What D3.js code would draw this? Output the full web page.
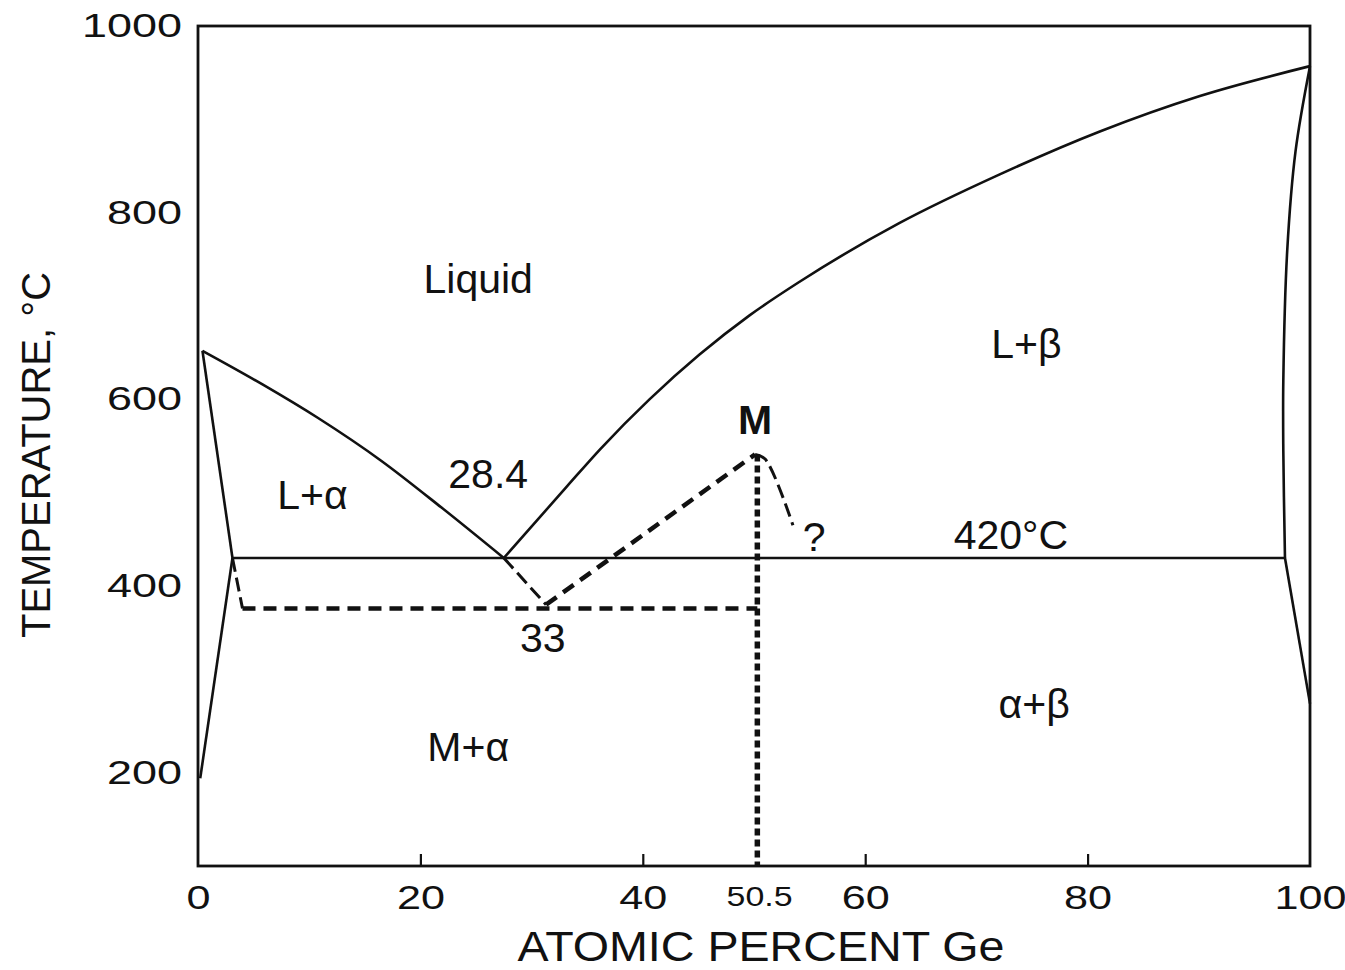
<html>
<head>
<script src="https://d3js.org/d3.v7.min.js"></script>
<style>
body { margin: 0; background: #fff; }
svg text { font-family: "Liberation Sans", Arial, Helvetica, sans-serif; fill: #111; }
.phase { fill: none; stroke: #111; stroke-width: 2.6; }
.meta { fill: none; stroke: #111; stroke-width: 4.5; stroke-dasharray: 13,8; }
.thin { fill: none; stroke: #111; stroke-width: 3; stroke-dasharray: 14,6; }
.dots { fill: none; stroke: #111; stroke-width: 5.5; stroke-dasharray: 7,4; }
.frame { fill: none; stroke: #111; stroke-width: 2.8; }
</style>
</head>
<body>
<svg id="chart"></svg>
<script>
// Al-Ge phase diagram (at.% Ge, deg C)
var xTicks = [0, 20, 40, 60, 80, 100];
var yTicks = [200, 400, 600, 800, 1000];
var xMark = 50.5;

var liquidusAl = [[0.4,652],[5.8,616],[10.8,580],[16.5,534],[21.9,484],[27.5,430]];
var liquidusGe = [[27.5,430],[33.2,507],[36.2,547],[40.6,600],[45.1,648],[49.6,690],[54.1,726],[63.1,789],[72.1,841],[81.1,887],[90.1,925],[100,957]];
var solidusAl = [[0.4,652],[3.1,430]];
var solvusAl = [[3.1,430],[0.2,194]];
var eutectic = [[3.1,430],[97.75,430]];
var solidusGe = [[100,957],[98.7,866],[97.95,759],[97.6,620],[97.6,545],[97.75,430]];
var solvusGe = [[97.75,430],[100,274]];

// metastable M phase (dashed)
var metaAlEdge = [[3.1,430],[4.0,376]];
var metaEutectic = [[4.0,376],[50.3,376]];
var metaLiqAl = [[27.5,430],[31.3,380]];
var metaLiqM = [[31.3,380],[50.1,541]];
var metaLiqGe = [[50.1,541],[51.0,536],[53.5,465]];
var phaseM = [[50.3,541],[50.3,100]];

var labels = [
	{ t: "Liquid", x: 25.2, y: 714 },
	{ t: "L+\u03b1", x: 10.3, y: 483 },
	{ t: "28.4", x: 26.1, y: 505 },
	{ t: "M", x: 50.1, y: 563, bold: true },
	{ t: "?", x: 55.4, y: 438 },
	{ t: "420\u00b0C", x: 73.1, y: 440 },
	{ t: "33", x: 31.0, y: 329 },
	{ t: "M+\u03b1", x: 24.3, y: 213 },
	{ t: "L+\u03b2", x: 74.5, y: 644 },
	{ t: "\u03b1+\u03b2", x: 75.2, y: 259 }
];

var W = 1345, H = 970;
var m = { left: 198, right: 35, top: 26, bottom: 104 };

var svg = d3.select("#chart")
	.attr("width", W)
	.attr("height", H);

var x = d3.scaleLinear().domain([0, 100]).range([m.left, W - m.right]);
var y = d3.scaleLinear().domain([100, 1000]).range([H - m.bottom, m.top]);

var line = d3.line()
	.x(function(d) { return x(d[0]); })
	.y(function(d) { return y(d[1]); });
var smooth = d3.line()
	.x(function(d) { return x(d[0]); })
	.y(function(d) { return y(d[1]); })
	.curve(d3.curveMonotoneX);
var curve = d3.line()
	.x(function(d) { return x(d[0]); })
	.y(function(d) { return y(d[1]); })
	.curve(d3.curveCatmullRom.alpha(0.5));

// frame
svg.append("rect")
	.attr("class", "frame")
	.attr("x", x(0)).attr("y", y(1000))
	.attr("width", x(100) - x(0))
	.attr("height", y(100) - y(1000));

// axes
var xAxis = d3.axisBottom(x)
	.tickValues(xTicks)
	.tickSizeInner(-12)
	.tickSizeOuter(0)
	.tickPadding(20)
	.tickFormat(d3.format("d"));
var gx = svg.append("g")
	.attr("transform", "translate(0," + y(100) + ")")
	.call(xAxis);
gx.select(".domain").remove();
gx.selectAll(".tick line")
	.attr("stroke", "#111").attr("stroke-width", 2.2)
	.attr("display", function(d) { return (d === 0 || d === 100) ? "none" : null; });
gx.selectAll(".tick text")
	.attr("font-size", 33)
	.attr("textLength", function(d) { return String(d).length * 24; })
	.attr("lengthAdjust", "spacingAndGlyphs");

var yAxis = d3.axisLeft(y)
	.tickValues(yTicks)
	.tickSize(0)
	.tickPadding(16)
	.tickFormat(d3.format("d"));
var gy = svg.append("g")
	.attr("transform", "translate(" + x(0) + ",0)")
	.call(yAxis);
gy.select(".domain").remove();
gy.selectAll(".tick text")
	.attr("font-size", 33)
	.attr("textLength", function(d) { return String(d).length * 25; })
	.attr("lengthAdjust", "spacingAndGlyphs");

svg.append("text")
	.attr("x", x(xMark))
	.attr("y", y(100) + 40)
	.attr("text-anchor", "middle")
	.attr("font-size", 27)
	.attr("textLength", 66)
	.attr("lengthAdjust", "spacingAndGlyphs")
	.text(String(xMark));

// axis titles
svg.append("text")
	.attr("x", 761)
	.attr("y", H - 9)
	.attr("text-anchor", "middle")
	.attr("font-size", 42)
	.attr("textLength", 487)
	.attr("lengthAdjust", "spacingAndGlyphs")
	.text("ATOMIC PERCENT Ge");

svg.append("text")
	.attr("transform", "translate(50," + 455 + ") rotate(-90)")
	.attr("text-anchor", "middle")
	.attr("font-size", 40)
	.attr("textLength", 366)
	.attr("lengthAdjust", "spacingAndGlyphs")
	.text("TEMPERATURE, \u00b0C");

// phase boundaries
[liquidusAl, liquidusGe].forEach(function(d) {
	svg.append("path").attr("class", "phase").attr("d", smooth(d));
});
svg.append("path").attr("class", "phase").attr("d", curve(solidusGe));
[solidusAl, solvusAl, solvusGe].forEach(function(d) {
	svg.append("path").attr("class", "phase").attr("d", line(d));
});
svg.append("path").attr("class", "phase").attr("stroke-width", 2.2).attr("d", line(eutectic));

// metastable lines
svg.append("path").attr("class", "thin").attr("stroke-dasharray", "6,5").attr("d", line(metaAlEdge));
svg.append("path").attr("class", "meta").attr("d", line(metaEutectic));
svg.append("path").attr("class", "thin").attr("stroke-dasharray", "10,6").attr("d", line(metaLiqAl));
svg.append("path").attr("class", "meta").attr("d", line(metaLiqM));
svg.append("path").attr("class", "thin").attr("stroke-dasharray", "16,7").attr("d", curve(metaLiqGe));
svg.append("path").attr("class", "dots").attr("d", line(phaseM));

// region labels
svg.selectAll(".lbl")
	.data(labels)
	.enter().append("text")
	.attr("class", "lbl")
	.attr("x", function(d) { return x(d.x); })
	.attr("y", function(d) { return y(d.y); })
	.attr("text-anchor", "middle")
	.attr("font-size", 41)
	.attr("font-weight", function(d) { return d.bold ? "bold" : null; })
	.text(function(d) { return d.t; });
</script>
</body>
</html>
